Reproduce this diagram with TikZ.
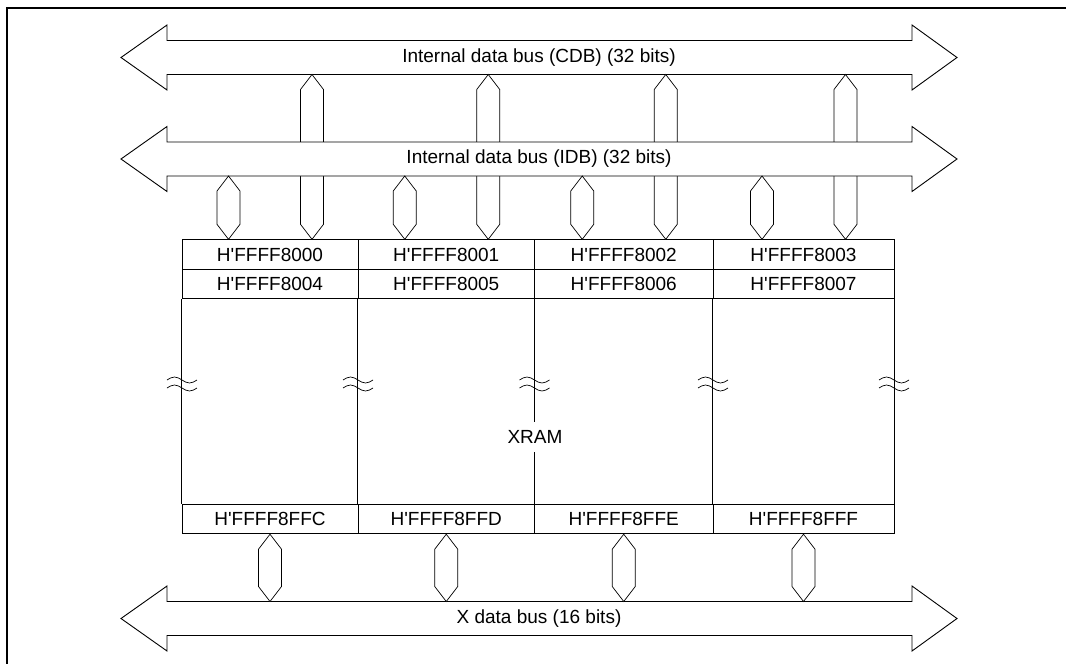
\documentclass[tikz,border=0pt]{standalone}
\usepackage{fontspec}
\setmainfont{Liberation Sans}
\usetikzlibrary{calc}

\tikzset{
  bus/.style  = {draw, line width=0.9pt, fill=white},
  link/.style = {draw, line width=0.7pt, fill=white},
  cell/.style = {draw, line width=0.9pt, minimum height=29.5pt, inner sep=0pt},
  brk/.style  = {line width=0.7pt}
}

% block arrow for a bus: name, y of its middle, label
\newcommand\busarrow[3]{%
  \draw[bus] (121,#2) -- (167,#2-32.5) -- (167,#2-17) -- (912,#2-17)
    -- (912,#2-32.5) -- (957,#2) -- (912,#2+32.5) -- (912,#2+17)
    -- (167,#2+17) -- (167,#2+32.5) -- cycle;
  \node (#1) at (539,#2) {#3};
  \coordinate (#1-top) at (539,#2-17);
  \coordinate (#1-bot) at (539,#2+17);}

% hexagonal bus link: x from #1, top y from #2, bottom y from #3
\newcommand\hexlink[3]{%
  \draw[link] let \p1=#1, \p2=#2, \p3=#3 in
    (\x1,\y2) -- (\x1+11.5pt,\y2-15pt) -- (\x1+11.5pt,\y3+15pt) -- (\x1,\y3)
    -- (\x1-11.5pt,\y3+15pt) -- (\x1-11.5pt,\y2-15pt) -- cycle;}

\newcommand\addr[1]{H\textquotesingle FFFF#1}

\begin{document}
\begin{tikzpicture}[x=1pt, y=-1pt, font=\fontsize{19}{22}\selectfont]
  \useasboundingbox (0,0) rectangle (1066,664);
  \draw[line width=1.6pt] (7,664) -- (7,8) -- (1066,8);

  \busarrow{cdb}{57.5}{Internal data bus (CDB) (32 bits)}

  % XRAM cells
  \foreach \i/\c/\w/\ta/\tb/\tz in {0/270/176/8000/8004/8FFC,
      1/446.25/176.5/8001/8005/8FFD, 2/623.75/178.5/8002/8006/8FFE,
      3/803.5/181/8003/8007/8FFF}{
    \node[cell, minimum width=\w pt] (a\i) at (\c,254.5) {\addr{\ta}};
    \node[cell, minimum width=\w pt] (b\i) at (\c,284) {\addr{\tb}};
    \node[cell, minimum width=\w pt] (z\i) at (\c,519) {\addr{\tz}};
    \draw[line width=0.9pt] (b\i.south west) -- (z\i.north west);
  }
  \draw[line width=0.9pt] (b3.south east) -- (z3.north east);
  \node[fill=white, inner xsep=1pt, inner ysep=8pt] (xram) at (535,437) {XRAM};

  \foreach \x in {182,358,534.5,713,894}{
    \draw[brk] (\x-15,380) sin (\x-7.5,377) cos (\x,380) sin (\x+7.5,383) cos (\x+15,380);
    \draw[brk] (\x-15,388) sin (\x-7.5,385) cos (\x,388) sin (\x+7.5,391) cos (\x+15,388);
  }

  % CDB links pass behind the IDB
  \foreach \i in {0,...,3}
    \hexlink{($(a\i.north)+(42,0)$)}{(cdb-bot)}{(a\i.north)};

  \busarrow{idb}{159}{Internal data bus (IDB) (32 bits)}

  \foreach \i in {0,...,3}
    \hexlink{($(a\i.north)+(-41.5,0)$)}{(idb-bot)}{(a\i.north)};

  \busarrow{xbus}{618.5}{X data bus (16 bits)}

  \foreach \i in {0,...,3}
    \hexlink{(z\i.south)}{(z\i.south)}{(xbus-top)};
\end{tikzpicture}
\end{document}
